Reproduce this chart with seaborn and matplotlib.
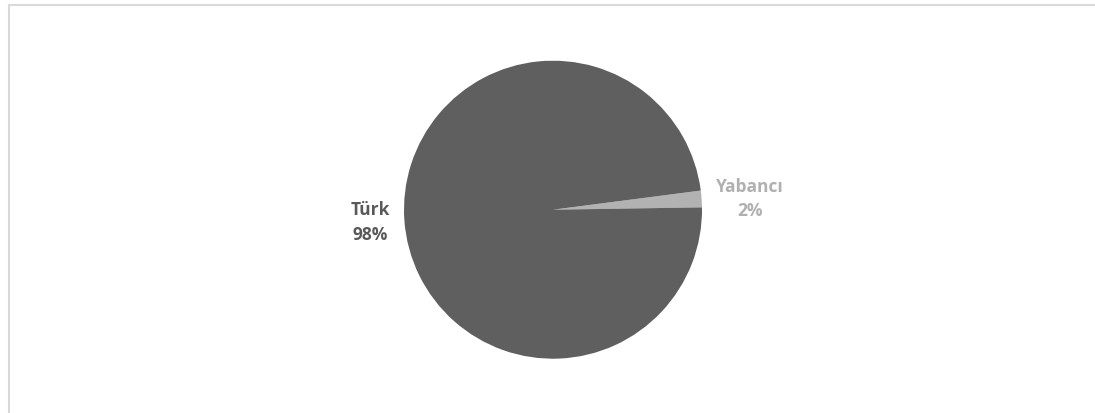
import matplotlib
matplotlib.use("Agg")
import matplotlib.pyplot as plt
from matplotlib.lines import Line2D
import seaborn as sns

categories = ["Yabancı", "Türk"]
values = [1.8, 98.2]
pct_labels = ["2%", "98%"]
colors = ["#b2b2b2", "#5f5f5f"]
label_colors = ["#b0b0b0", "#595959"]

sns.set_theme(style="white")
plt.rcParams['font.family'] = ['Open Sans', 'DejaVu Sans']

W, H = 1095, 414
fig = plt.figure(figsize=(W / 100, H / 100), dpi=100)
fig.patch.set_facecolor("white")

cx, cy_top, r = 553, 210.7, 149
half = 160
ax = fig.add_axes([(cx - half) / W, (H - cy_top - half) / H, 2 * half / W, 2 * half / H])
lim = half / r

wedges, texts = ax.pie(
    values,
    labels=[f"{c}\n{p}" for c, p in zip(categories, pct_labels)],
    colors=colors,
    startangle=0.9,
    counterclock=True,
    labeldistance=1.1,
    wedgeprops=dict(linewidth=0),
    textprops=dict(fontsize=12.5, fontweight="bold"),
)
for t, c in zip(texts, label_colors):
    t.set_color(c)
    t.set_multialignment("center")
    t.set_va("center")
    t.set_linespacing(1.45)

ax.set_xlim(-lim, lim)
ax.set_ylim(-lim, lim)
ax.set_aspect("equal")
ax.axis("off")

# chart frame (top and left edges visible)
fig.add_artist(Line2D([8.5 / W, 8.5 / W], [0, 1 - 5.5 / H], transform=fig.transFigure, color="#d9d9d9", lw=1.5))
fig.add_artist(Line2D([8.5 / W, 1], [1 - 5.5 / H, 1 - 5.5 / H], transform=fig.transFigure, color="#d9d9d9", lw=1.5))

fig.savefig("out.png", dpi=100, facecolor="white")
